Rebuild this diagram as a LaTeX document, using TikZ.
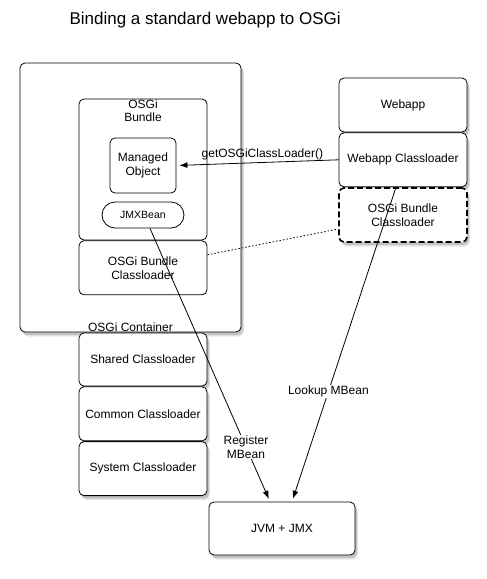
\documentclass[tikz,border=0pt]{standalone}
\usepackage{fontspec}
\setmainfont{Liberation Sans}
\usetikzlibrary{positioning, shadows, arrows.meta}
\tikzset{
box/.style={draw, rounded corners=5pt, fill=white, align=center, line width=0.8pt, inner sep=2pt},
shadowbox/.style={box,
  drop shadow={shadow xshift=3pt, shadow yshift=-4.5pt, opacity=0.2},
  drop shadow={shadow xshift=2pt, shadow yshift=-3pt, opacity=0.35}},
dashbox/.style={shadowbox, line width=1.6pt, dash pattern=on 6pt off 3pt},
link/.style={line width=0.8pt, -{Latex[length=8pt,width=6pt]}, shorten >=3pt},
tag/.style={fill=white, inner sep=1pt, align=center}
}
\begin{document}
\begin{tikzpicture}[x=1pt, y=-1pt, font=\fontsize{12}{14}\selectfont]
\useasboundingbox (0,0) rectangle (487,579);
\node[anchor=west, font=\fontsize{17}{20}\selectfont] (title) at (66,20) {Binding a standard webapp to OSGi};
% container and bundle
\node[shadowbox, minimum width=221pt, minimum height=269pt] (container) at (130.5,197.5) {};
\node[anchor=south, inner sep=1pt] (containerlbl) at (container.south) {OSGi Container};
\node[box, minimum width=128pt, minimum height=141pt] (bundle) at (143,169.5) {};
\node[anchor=north, align=center, inner sep=1pt, font=\fontsize{12}{13}\selectfont] (bundlelbl) at (bundle.north) {OSGi\\Bundle};
\node[box, minimum width=66pt, minimum height=55pt] (managed) at (143,165.5) {Managed\\Object};
\node[box, rounded corners=13pt, minimum width=82pt, minimum height=26pt, font=\fontsize{10.5}{12}\selectfont] (jmxbean) at (143,215) {JMXBean};
\node[box, minimum width=128pt, minimum height=54pt, below=0pt of bundle] (bundlecl) {OSGi Bundle\\Classloader};
% classloader stack
\node[shadowbox, minimum width=128pt, minimum height=53pt] (shared) at (143,359.5) {Shared Classloader};
\node[shadowbox, minimum width=128pt, minimum height=54pt, below=0pt of shared] (common) {Common Classloader};
\node[shadowbox, minimum width=128pt, minimum height=54pt, below=0pt of common] (system) {System Classloader};
\node[shadowbox, minimum width=146pt, minimum height=53pt] (jvm) at (282,528.5) {JVM + JMX};
% webapp
\node[shadowbox, minimum width=128pt, minimum height=54pt] (webapp) at (403,105) {Webapp};
\node[shadowbox, minimum width=128pt, minimum height=54pt, below=0pt of webapp] (webappcl) {Webapp Classloader};
\node[dashbox, minimum width=128pt, minimum height=54pt, below=0pt of webappcl] (osgicl) {OSGi Bundle\\Classloader};
% links
\draw[link] (webappcl.west) -- node[above, pos=0.47, inner sep=2pt] (getlbl) {getOSGiClassLoader()} (managed.east);
\draw[line width=0.8pt, dash pattern=on 1.5pt off 2pt] ([yshift=13pt]bundlecl.east) -- ([yshift=-14pt]osgicl.west);
\draw[link] ([xshift=7pt]jmxbean.south) -- node[tag, pos=0.8] (reglbl) {Register\\MBean} ([xshift=-12pt]jvm.north);
\draw[link] ([xshift=-7pt]webappcl.south) -- node[tag, pos=0.65] (lookuplbl) {Lookup MBean} ([xshift=10pt]jvm.north);
\end{tikzpicture}
\end{document}
